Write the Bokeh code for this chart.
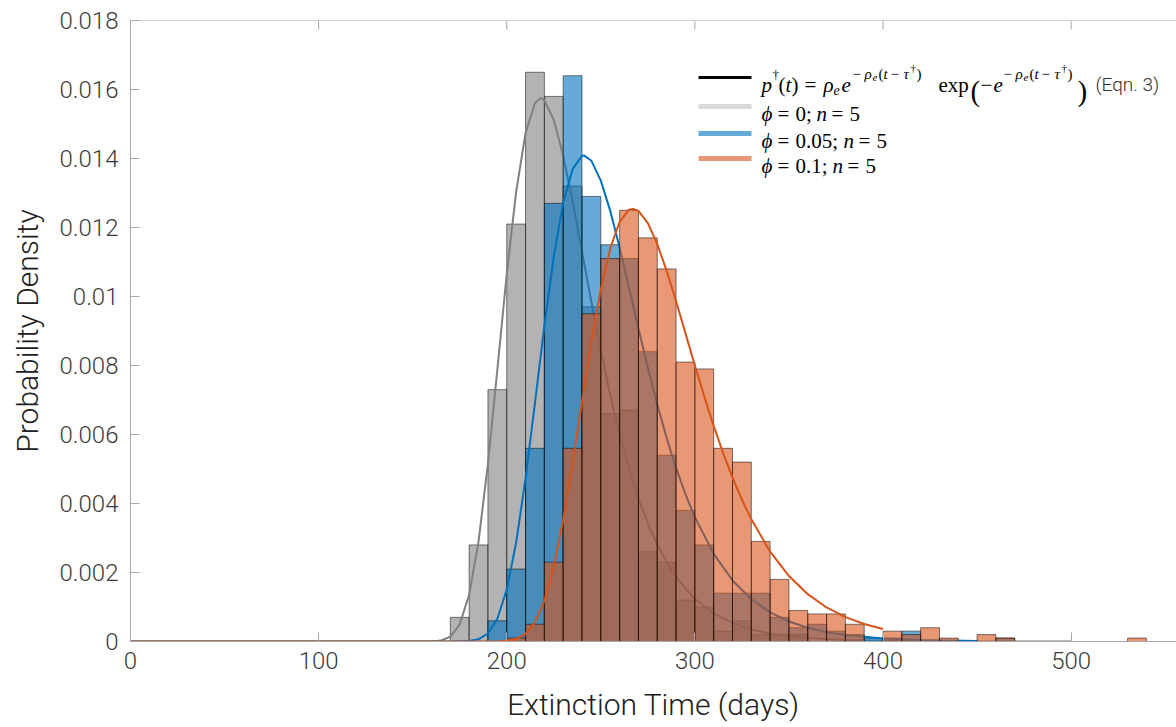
from bokeh.plotting import figure
from bokeh.models import Range1d, FixedTicker, PrintfTickFormatter, Label, Span
from bokeh.embed import file_html
from bokeh.resources import INLINE

# ---------------- data ----------------
bin_width = 10
gray_starts = [170, 180, 190, 200, 210, 220, 230, 240, 250, 260, 270, 280, 290, 300,
               310, 320, 330, 340, 350]
gray_density = [0.0007, 0.0028, 0.0073, 0.0121, 0.0165, 0.0158, 0.0132, 0.0097, 0.0066,
                0.0067, 0.0026, 0.0023, 0.0012, 0.0010, 0.0003, 0.0006, 0.0002, 0.0002,
                0.0002]
blue_starts = [190, 200, 210, 220, 230, 240, 250, 260, 270, 280, 290, 300, 310, 320,
               330, 340, 350, 360, 370, 380, 390, 400, 410, 460]
blue_density = [0.0006, 0.0021, 0.0056, 0.0127, 0.0164, 0.0129, 0.0115, 0.0111, 0.0084,
                0.0054, 0.0038, 0.0028, 0.0014, 0.0014, 0.0014, 0.0007, 0.0004, 0.0005,
                0.0003, 0.0002, 0.0001, 0.0001, 0.0003, 0.0001]
orange_starts = [200, 210, 220, 230, 240, 250, 260, 270, 280, 290, 300, 310, 320, 330,
                 340, 350, 360, 370, 380, 400, 410, 420, 430, 450, 460, 530]
orange_density = [0.0001, 0.0005, 0.0023, 0.0056, 0.0095, 0.0111, 0.0125, 0.0117, 0.0108,
                  0.0081, 0.0079, 0.0056, 0.0052, 0.0029, 0.0018, 0.0009, 0.0008, 0.0008,
                  0.0005, 0.0003, 0.0002, 0.0004, 0.0001, 0.0002, 0.0001, 0.0001]

# fitted curves p(t) (Eqn. 3)
gray_t = [0, 150, 160, 165, 170, 175, 180, 185, 190, 195, 200, 205, 210, 215, 218, 220,
          225, 230, 235, 240, 245, 250, 255, 260, 265, 270, 275, 280, 285, 290, 295, 300,
          310, 320, 330, 340, 350, 360, 380, 400, 450, 500]
gray_p = [0, 0, 0.000003, 0.000026, 0.000137, 0.000495, 0.001353, 0.002897, 0.005155,
          0.007884, 0.01066, 0.01304, 0.01474, 0.01561, 0.01575, 0.01569, 0.01512,
          0.01408, 0.01276, 0.01130, 0.00984, 0.00844, 0.00715, 0.00601, 0.00501,
          0.00415, 0.00342, 0.00281, 0.00230, 0.00188, 0.00153, 0.00124, 0.00082,
          0.00054, 0.00035, 0.00023, 0.00015, 0.00010, 0.00004, 0.00002, 0.000002, 0]
blue_t = [0, 170, 180, 185, 190, 195, 200, 205, 210, 215, 220, 225, 230, 235, 240, 241,
          245, 250, 255, 260, 265, 270, 275, 280, 285, 290, 295, 300, 310, 320, 330, 340,
          350, 360, 370, 380, 400, 420, 450]
blue_p = [0, 0, 0.0000128, 0.0000638, 0.000234, 0.000660, 0.001504, 0.002869, 0.004735,
          0.006917, 0.009159, 0.011161, 0.012719, 0.013692, 0.014079, 0.01409, 0.013933,
          0.01336, 0.012482, 0.011412, 0.010250, 0.009073, 0.007934, 0.006869, 0.005899,
          0.005031, 0.004266, 0.003602, 0.002540, 0.001770, 0.001226, 0.000845, 0.000580,
          0.000397, 0.000272, 0.000186, 0.0000867, 0.0000403, 0.0000128]
orange_t = [0, 190, 195, 200, 205, 210, 215, 220, 225, 230, 235, 240, 245, 250, 255, 260,
            265, 267, 270, 275, 280, 285, 290, 295, 300, 305, 310, 315, 320, 325, 330, 340,
            350, 360, 370, 380, 390, 400]
orange_p = [0, 0.0000005, 0.0000035, 0.0000182, 0.0000715, 0.000221, 0.000556, 0.001180,
            0.002168, 0.003526, 0.005168, 0.006953, 0.008687, 0.010211, 0.011393,
            0.012166, 0.012515, 0.01254, 0.012481, 0.012126, 0.011520, 0.010743,
            0.009861, 0.008932, 0.008001, 0.007099, 0.006248, 0.005463, 0.004749,
            0.004109, 0.003541, 0.002604, 0.001897, 0.001372, 0.000987, 0.000708,
            0.000507, 0.000362]

x_ticks = [0, 100, 200, 300, 400, 500]
y_ticks = [0, 0.002, 0.004, 0.006, 0.008, 0.01, 0.012, 0.014, 0.016, 0.018]
X_MAX = 556
Y_MAX = 0.018

# ---------------- figure ----------------
FONT = "Roboto Light, Roboto"
AX = "#a8a8a8"
TXT = "#3a3a3a"
LEFT, TOP, W, H = 130, 20, 1176, 725
FRAME_W = W - LEFT
FRAME_H = 641 - TOP

p = figure(width=W, height=H, output_backend="svg", toolbar_location=None,
           x_range=Range1d(0, X_MAX), y_range=Range1d(0, Y_MAX),
           min_border_left=LEFT, min_border_right=0, min_border_top=TOP,
           min_border_bottom=H - 641)
p.outline_line_color = None
p.grid.visible = False

for ax in (p.xaxis[0], p.yaxis[0]):
    ax.axis_line_color = AX
    ax.major_tick_line_color = AX
    ax.major_tick_in = 9
    ax.major_tick_out = 0
    ax.minor_tick_line_color = None
    ax.major_label_text_font = FONT
    ax.major_label_text_font_size = "24px"
    ax.major_label_text_color = TXT
    ax.axis_label_text_font = FONT
    ax.axis_label_text_font_size = "30px"
    ax.axis_label_text_font_style = "normal"
    ax.axis_label_text_color = "#202020"

p.xaxis[0].ticker = FixedTicker(ticks=x_ticks)
p.xaxis[0].major_label_standoff = 10
p.xaxis[0].axis_label = "Extinction Time (days)"
p.xaxis[0].axis_label_standoff = 15
p.yaxis[0].ticker = FixedTicker(ticks=y_ticks)
p.yaxis[0].formatter = PrintfTickFormatter(format="%g")
p.yaxis[0].major_label_standoff = 12
p.yaxis[0].axis_label = "Probability Density"
p.yaxis[0].axis_label_standoff = 12

XS = FRAME_W / X_MAX          # px per day
YS = FRAME_H / Y_MAX          # px per density unit


def dx(px):
    return (px - LEFT) / XS


def dy(py):
    return (641 - py) / YS

# top box edge with inward ticks
p.add_layout(Span(location=Y_MAX, dimension="width", line_color=AX, line_width=1))
p.segment(x0=x_ticks, x1=x_ticks, y0=[Y_MAX] * len(x_ticks),
          y1=[Y_MAX - 9 / YS] * len(x_ticks), line_color=AX, line_width=1)

# ---------------- histograms and curves ----------------
def hist(starts, dens, fill):
    left = [s for s, d in zip(starts, dens) if d > 0]
    right = [s + bin_width for s, d in zip(starts, dens) if d > 0]
    topv = [d for d in dens if d > 0]
    p.quad(left=left, right=right, top=topv, bottom=0, fill_color=fill, fill_alpha=0.6,
           line_color="black", line_alpha=0.5, line_width=1)

hist(gray_starts, gray_density, "#808080")
p.line(gray_t, gray_p, line_color="#808080", line_width=2)
hist(blue_starts, blue_density, "#0072BD")
p.line(blue_t, blue_p, line_color="#0072BD", line_width=2)
hist(orange_starts, orange_density, "#D95319")
p.line(orange_t, orange_p, line_color="#D95319", line_width=2)

# ---------------- legend ----------------
for yc, col, lw in ((77, "black", 3), (106, "#d9d9d9", 5), (133, "#66aad7", 5),
                    (158, "#e89875", 5)):
    p.segment(x0=[dx(698)], x1=[dx(751)], y0=[dy(yc)], y1=[dy(yc)], line_color=col,
              line_width=lw)


def lab(xp, yp, text, size, style="normal", font="Liberation Serif", color="black",
        align="left"):
    p.add_layout(Label(x=dx(xp), y=dy(yp), text=text, text_font=font,
                       text_font_size=f"{size}px", text_font_style=style,
                       text_color=color, text_baseline="alphabetic", text_align=align))

I, N = "italic", "normal"
b1 = 84
e1 = 73


def exponent(S):
    return [(S, e1, "\u2212", 15, N), (S + 12, e1, "\u03c1", 15, I),
            (S + 20, 77, "e", 11, I), (S + 26, e1, "(", 15, N),
            (S + 31, e1, "t", 15, I), (S + 38, e1, "\u2212", 15, N),
            (S + 51, e1, "\u03c4", 15, I), (S + 58, 67, "\u2020", 11, N),
            (S + 64, e1, ")", 15, N)]

runs = [
    (761, b1, "p", 21, I), (772, 74, "\u2020", 13, N), (778, b1, "(", 21, N),
    (785, b1, "t", 21, I), (791, b1, ")", 21, N), (804, b1, "=", 21, N),
    (823, b1, "\u03c1", 21, I), (833, 89, "e", 14, I), (841, b1, "e", 21, I),
] + exponent(852) + [
    (938, b1, "exp", 21, N), (970, 90, "(", 29, N), (980, b1, "\u2212", 21, N),
    (993, b1, "e", 21, I),
] + exponent(1003) + [
    (1077, 90, ")", 29, N),
]
for xp, yp, t, s, st in runs:
    lab(xp, yp, t, s, st)
lab(1095, b1, "(Eqn. 3)", 19, N, FONT, "#303030")

for base, val, nx in ((113, "0;", 816), (140, "0.05;", 843), (165, "0.1;", 832)):
    lab(761, base, "\u03d5", 21, I)
    lab(777, base, "=", 21, N)
    lab(795, base, val, 21, N)
    lab(nx, base, "n", 21, I)
    lab(nx + 15, base, "=", 21, N)
    lab(nx + 33, base, "5", 21, N)

open("out.html", "w").write(file_html(p, INLINE))
